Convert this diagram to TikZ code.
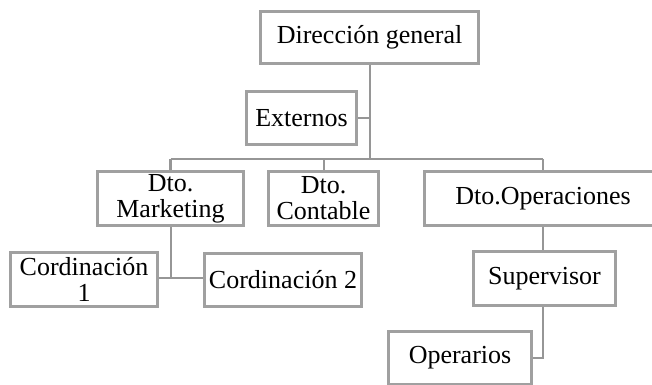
\documentclass[tikz,border=0pt]{standalone}
\usepackage{fontspec}
\setmainfont{Liberation Serif}
\definecolor{boxgray}{RGB}{160,160,160}
\definecolor{linegray}{RGB}{150,150,150}
\begin{document}
\begin{tikzpicture}[x=1pt,y=-1pt,
  orgbox/.style={draw=boxgray, line width=3pt, fill=white, rectangle,
    inner sep=0pt, align=center, text=black,
    font=\fontsize{26}{26}\selectfont},
  link/.style={draw=linegray, line width=2.6pt}]
  \useasboundingbox (0,0) rectangle (652,384);
  \clip (0,0) rectangle (652,384);

  % junction points of the connector lines
  \coordinate (busL) at (170.5,159);
  \coordinate (busM) at (370,159);
  \coordinate (busC) at (324,159);
  \coordinate (busR) at (543,159);
  \coordinate (extJ) at (370,118);
  \coordinate (mktJ) at (171,278);
  \coordinate (supJ) at (543,358);

  % boxes
  \node[orgbox, minimum width=218pt, minimum height=52pt] (dir) at (369.5,37.5) {Dirección general};
  \node[orgbox, minimum width=110pt, minimum height=53pt] (ext) at (301.5,118) {Externos};
  \node[orgbox, minimum width=146pt, minimum height=54pt] (mkt) at (170.5,198.5) {Dto.\\Marketing};
  \node[orgbox, minimum width=110pt, minimum height=54pt] (cont) at (323.5,198.5) {Dto.\\Contable};
  \node[orgbox, minimum width=237pt, minimum height=54pt] (ope) at (543,198.5) {Dto.Operaciones};
  \node[orgbox, minimum width=147pt, minimum height=54pt] (cord1) at (84,279) {Cordinación\\1};
  \node[orgbox, minimum width=157pt, minimum height=53pt] (cord2) at (283,279.5) {Cordinación 2};
  \node[orgbox, minimum width=142pt, minimum height=54pt] (sup) at (544.5,278.5) {Supervisor};
  \node[orgbox, minimum width=143pt, minimum height=53pt] (opr) at (460,358) {Operarios};

  % connectors
  \draw[link] (dir.south -| busM) -- (busM);
  \draw[link] (busL) -- (busR);
  \draw[link] (busL) -- (busL |- mkt.north);
  \draw[link] (busC) -- (busC |- cont.north);
  \draw[link] (busR) -- (busR |- ope.north);
  \draw[link] (ext.east) -- (extJ);
  \draw[link] (mkt.south -| mktJ) -- (mktJ);
  \draw[link] (cord1.east |- mktJ) -- (cord2.west |- mktJ);
  \draw[link] (ope.south -| busR) -- (sup.north -| busR);
  \draw[link] (sup.south -| supJ) -- (supJ) -- (opr.east |- supJ);
\end{tikzpicture}
\end{document}
